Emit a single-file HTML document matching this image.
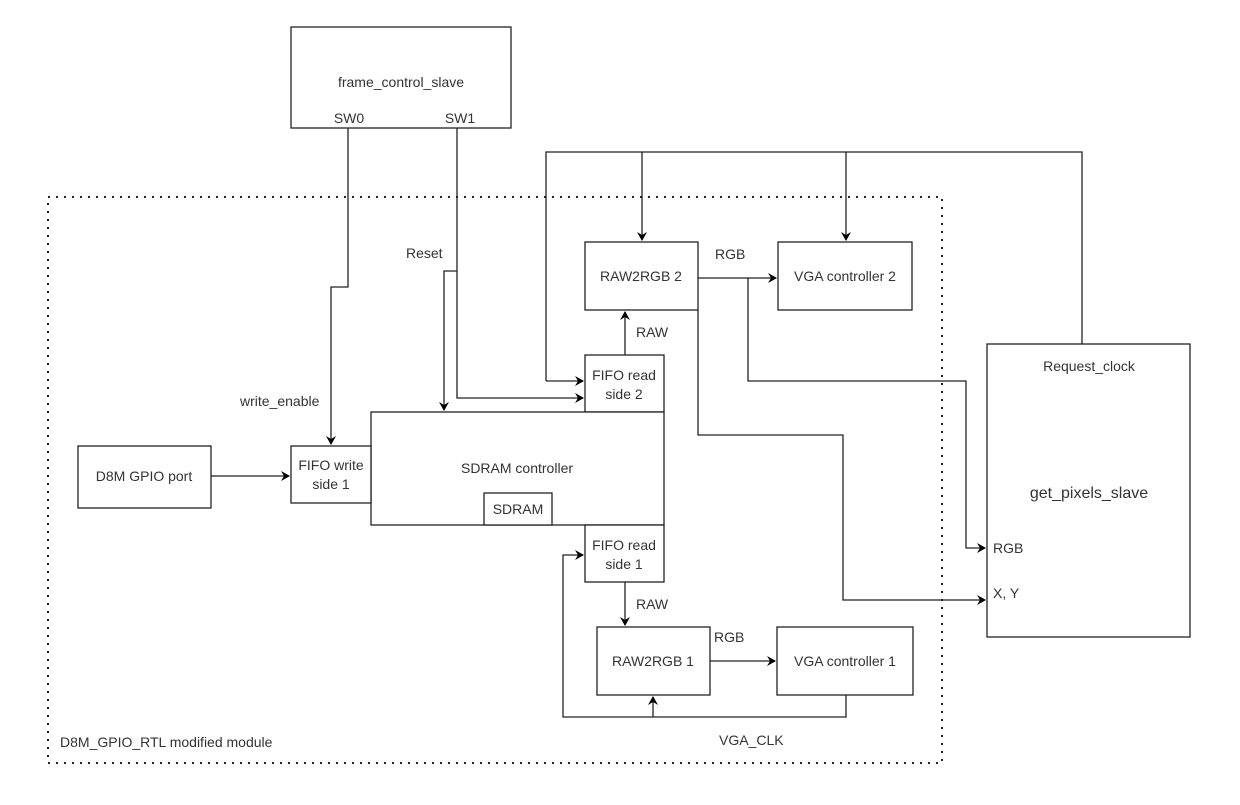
<!DOCTYPE html>
<html><head><meta charset="utf-8"><style>body{margin:0;background:#fff}</style></head><body>
<svg width="1240" height="800" viewBox="0 0 1240 800" xmlns="http://www.w3.org/2000/svg" font-family="Liberation Sans, sans-serif" font-size="14" fill="#333">
<defs><marker id="a" markerWidth="10" markerHeight="10" refX="8" refY="5" orient="auto" markerUnits="userSpaceOnUse"><path d="M0,0 L9,5 L0,10 L3,5 z" fill="#000"/></marker></defs>
<rect x="48" y="197" width="894" height="566" fill="none" stroke="#222" stroke-width="2" stroke-dasharray="2,6"/>
<g fill="#fff" stroke="#222" stroke-width="1.3">
<rect x="291" y="27" width="220" height="101"/>
<rect x="585" y="242" width="113" height="68"/>
<rect x="778" y="242" width="134" height="68"/>
<rect x="585" y="355" width="79" height="57"/>
<rect x="371" y="412" width="293" height="113"/>
<rect x="484" y="493" width="68" height="32"/>
<rect x="291" y="446" width="80" height="57"/>
<rect x="78" y="446" width="133" height="62"/>
<rect x="585" y="525" width="79" height="57"/>
<rect x="597" y="627" width="113" height="68"/>
<rect x="777" y="627" width="136" height="68"/>
<rect x="987" y="344" width="203" height="293"/>
</g>
<g fill="none" stroke="#222" stroke-width="1.3">
<path d="M348,128 V287 H331 V444" marker-end="url(#a)"/>
<path d="M457,128 V398 H583" marker-end="url(#a)"/>
<path d="M457,271 H444 V410" marker-end="url(#a)"/>
<path d="M546,381 V152 H1082 V344"/>
<path d="M546,381 H583" marker-end="url(#a)"/>
<path d="M642,152 V240" marker-end="url(#a)"/>
<path d="M846,152 V240" marker-end="url(#a)"/>
<path d="M625,355 V312" marker-end="url(#a)"/>
<path d="M698,278 H776" marker-end="url(#a)"/>
<path d="M748,278 V381 H966 V548 H985" marker-end="url(#a)"/>
<path d="M698,310 V435 H843 V600 H985" marker-end="url(#a)"/>
<path d="M625,582 V625" marker-end="url(#a)"/>
<path d="M710,661 H775" marker-end="url(#a)"/>
<path d="M846,695 V717 H563 V555 H583" marker-end="url(#a)"/>
<path d="M653,717 V697" marker-end="url(#a)"/>
<path d="M211,476 H289" marker-end="url(#a)"/>
</g>
<g text-anchor="middle">
<text x="401" y="87">frame_control_slave</text>
<text x="349" y="123">SW0</text>
<text x="460" y="123">SW1</text>
<text x="641" y="281">RAW2RGB 2</text>
<text x="845" y="281">VGA controller 2</text>
<text x="624" y="380">FIFO read</text>
<text x="624" y="399">side 2</text>
<text x="517" y="473">SDRAM controller</text>
<text x="518" y="514">SDRAM</text>
<text x="331" y="470">FIFO write</text>
<text x="331" y="489">side 1</text>
<text x="144" y="481">D8M GPIO port</text>
<text x="624" y="550">FIFO read</text>
<text x="624" y="569">side 1</text>
<text x="653" y="666">RAW2RGB 1</text>
<text x="845" y="666">VGA controller 1</text>
<text x="1089" y="371">Request_clock</text>
<text x="1089" y="498" font-size="16">get_pixels_slave</text>
</g>
<text x="715" y="259">RGB</text>
<text x="636" y="337">RAW</text>
<text x="714" y="642">RGB</text>
<text x="636" y="609">RAW</text>
<text x="719" y="745">VGA_CLK</text>
<text x="240" y="406">write_enable</text>
<text x="406" y="258">Reset</text>
<text x="60" y="747">D8M_GPIO_RTL modified module</text>
<text x="993" y="553">RGB</text>
<text x="993" y="598">X, Y</text>
</svg>
</body></html>
